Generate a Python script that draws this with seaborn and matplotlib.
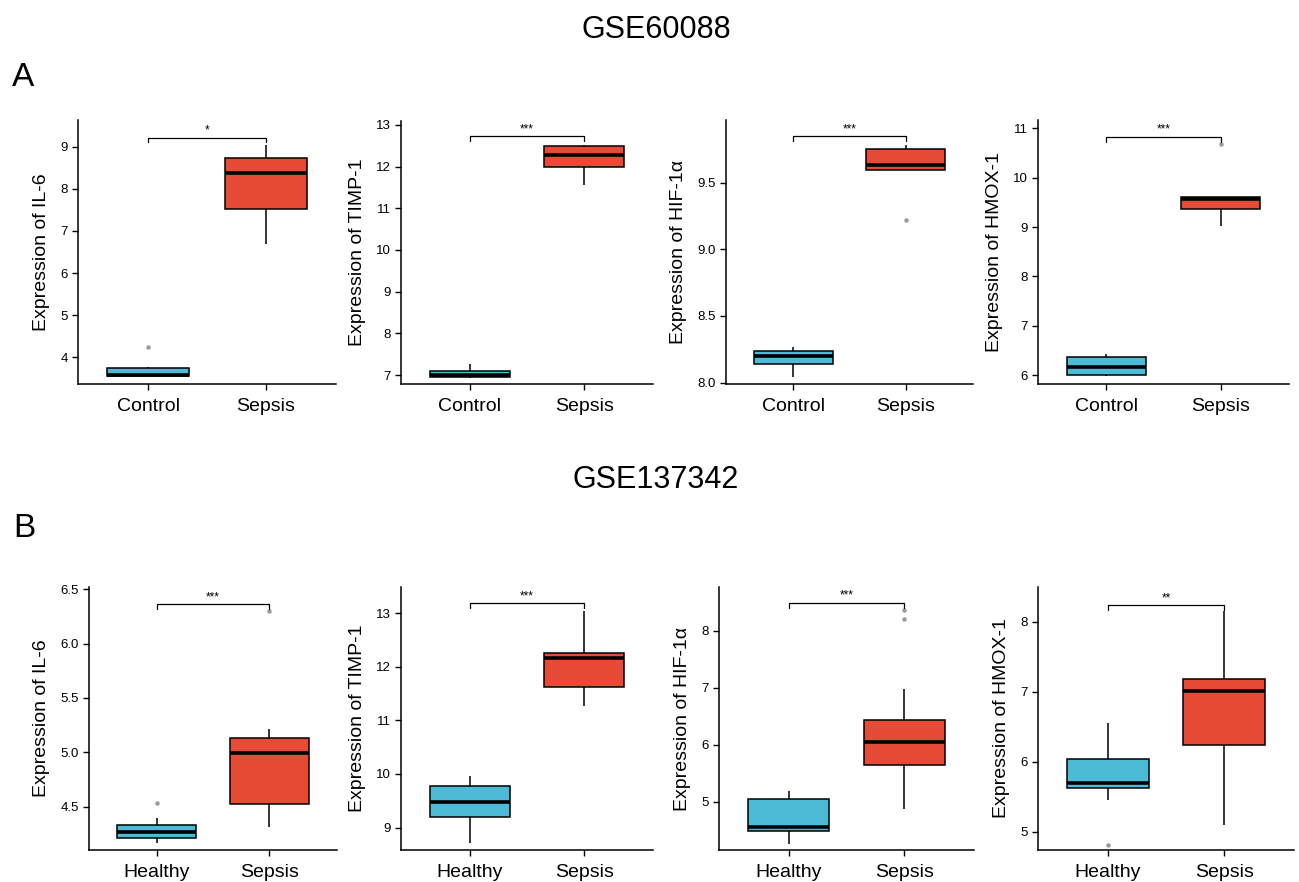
import numpy as np
import pandas as pd
import matplotlib
matplotlib.use("Agg")
import matplotlib.pyplot as plt
import seaborn as sns

# GSE60088 (top row): Control vs Sepsis
genes = ["IL-6", "TIMP-1", "HIF-1α", "HMOX-1"]

gse60088_control = [
    [3.53, 3.54, 3.55, 3.56, 3.57, 3.65, 3.75, 3.76, 4.25],
    [6.94, 6.95, 6.96, 6.98, 7.00, 7.05, 7.10, 7.20, 7.28],
    [8.04, 8.10, 8.14, 8.17, 8.20, 8.22, 8.235, 8.25, 8.265],
    [5.98, 5.99, 6.00, 6.10, 6.17, 6.25, 6.36, 6.40, 6.43],
]
gse60088_sepsis = [
    [6.68, 7.20, 7.53, 8.00, 8.37, 8.50, 8.73, 8.90, 9.05],
    [11.55, 11.80, 11.98, 12.10, 12.28, 12.40, 12.50, 12.51, 12.52],
    [9.22, 9.595, 9.595, 9.61, 9.635, 9.70, 9.755, 9.77, 9.78],
    [9.03, 9.20, 9.37, 9.50, 9.57, 9.60, 9.61, 9.61, 10.68],
]

# GSE137342 (bottom row): Healthy vs Sepsis
gse137342_healthy = [
    [4.16, 4.19, 4.21, 4.24, 4.27, 4.30, 4.33, 4.39, 4.53],
    [8.71, 9.00, 9.20, 9.35, 9.47, 9.60, 9.77, 9.90, 9.97],
    [4.26, 4.40, 4.48, 4.52, 4.56, 4.80, 5.05, 5.10, 5.18],
    [4.81, 5.45, 5.62, 5.65, 5.70, 5.90, 6.04, 6.30, 6.56],
]
gse137342_sepsis = [
    [4.31, 4.40, 4.52, 4.80, 4.99, 5.05, 5.13, 5.21, 6.30],
    [11.27, 11.45, 11.63, 11.90, 12.16, 12.20, 12.26, 12.60, 13.05],
    [4.87, 5.30, 5.50, 5.64, 5.80, 5.95, 6.04, 6.20, 6.30, 6.43, 6.98, 8.20, 8.37],
    [5.10, 5.80, 6.24, 6.70, 7.01, 7.10, 7.19, 7.60, 8.15],
]

# significance labels and bracket heights
sig_top = ["*", "***", "***", "***"]
sig_top_y = [9.22, 12.72, 9.85, 10.83]
sig_bottom = ["***", "***", "***", "**"]
sig_bottom_y = [6.36, 13.19, 8.49, 8.24]

# axis ranges / ticks
ylim_top = [(3.36, 9.64), (6.79, 13.09), (7.99, 9.97), (5.82, 11.17)]
yticks_top = [np.arange(4, 10), np.arange(7, 14), [8.0, 8.5, 9.0, 9.5], np.arange(6, 12)]
ylim_bottom = [(4.10, 6.52), (8.58, 13.49), (4.15, 8.77), (4.74, 8.50)]
yticks_bottom = [[4.5, 5.0, 5.5, 6.0, 6.5], np.arange(9, 14), np.arange(5, 9), np.arange(5, 9)]

palette = ["#4DBBD5", "#E64B35"]

sns.set_theme(style="ticks")
plt.rcParams["font.family"] = ["Liberation Sans", "DejaVu Sans"]
plt.rcParams["text.color"] = "black"
plt.rcParams["axes.labelcolor"] = "black"
plt.rcParams["xtick.color"] = "black"
plt.rcParams["ytick.color"] = "black"

W, H = 1299, 882
fig = plt.figure(figsize=(W / 100, H / 100), dpi=100)

# axes boxes in pixels: (left, right, top, bottom)
boxes_top = [(78, 336, 120, 384), (401, 653, 121, 384), (726, 973, 120, 384), (1038, 1289, 120, 384)]
boxes_bottom = [(89, 337, 587, 850), (401, 653, 587, 850), (719, 974, 587, 850), (1038, 1294, 587, 850)]


def px_axes(box):
    l, r, t, b = box
    return fig.add_axes([l / W, 1 - b / H, (r - l) / W, (b - t) / H])


def draw_panel(ax, ctrl, seps, names, gene, ylim, yticks, sig, sig_y):
    df = pd.DataFrame({
        "group": [names[0]] * len(ctrl) + [names[1]] * len(seps),
        "value": list(ctrl) + list(seps),
    })
    sns.boxplot(
        data=df, x="group", y="value", hue="group", palette=palette, saturation=1,
        width=0.7, linecolor="black", linewidth=1.1, showcaps=False, legend=False,
        medianprops=dict(linewidth=2.6, color="black"),
        flierprops=dict(marker="o", markersize=2.2, markerfacecolor="#9a9a9a",
                        markeredgecolor="#9a9a9a"),
        ax=ax,
    )
    ax.set_xlim(-0.6, 1.6)
    ax.set_ylim(*ylim)
    ax.set_yticks(yticks)
    if gene == "HIF-1α" and ylim[0] > 7:
        ax.set_yticklabels([f"{v:.1f}" for v in yticks])
    ax.set_xlabel("")
    ax.set_ylabel(f"Expression of {gene}", fontsize=14, color="black", labelpad=7)
    ax.tick_params(axis="x", labelsize=14, length=4, width=1, colors="black", pad=6)
    ax.tick_params(axis="y", labelsize=9.5, length=4, width=1, colors="black")
    for s in ["top", "right"]:
        ax.spines[s].set_visible(False)
    for s in ["left", "bottom"]:
        ax.spines[s].set_linewidth(1.1)
        ax.spines[s].set_color("black")
    # significance bracket
    rng = ylim[1] - ylim[0]
    tick = rng * 0.018
    ax.plot([0, 0, 1, 1], [sig_y - tick, sig_y, sig_y, sig_y - tick],
            color="black", linewidth=0.9)
    ax.text(0.5, sig_y + rng * 0.004, sig, ha="center", va="bottom", fontsize=8.5,
            color="black")


for i, gene in enumerate(genes):
    ax = px_axes(boxes_top[i])
    draw_panel(ax, gse60088_control[i], gse60088_sepsis[i], ["Control", "Sepsis"],
               gene, ylim_top[i], yticks_top[i], sig_top[i], sig_top_y[i])
    ax = px_axes(boxes_bottom[i])
    draw_panel(ax, gse137342_healthy[i], gse137342_sepsis[i], ["Healthy", "Sepsis"],
               gene, ylim_bottom[i], yticks_bottom[i], sig_bottom[i], sig_bottom_y[i])

fig.text(656 / W, 1 - 38 / H, "GSE60088", ha="center", va="baseline", fontsize=22)
fig.text(656 / W, 1 - 488 / H, "GSE137342", ha="center", va="baseline", fontsize=22)
fig.text(12 / W, 1 - 86 / H, "A", ha="left", va="baseline", fontsize=24)
fig.text(13 / W, 1 - 537 / H, "B", ha="left", va="baseline", fontsize=24)

fig.savefig("out.png", dpi=100)
